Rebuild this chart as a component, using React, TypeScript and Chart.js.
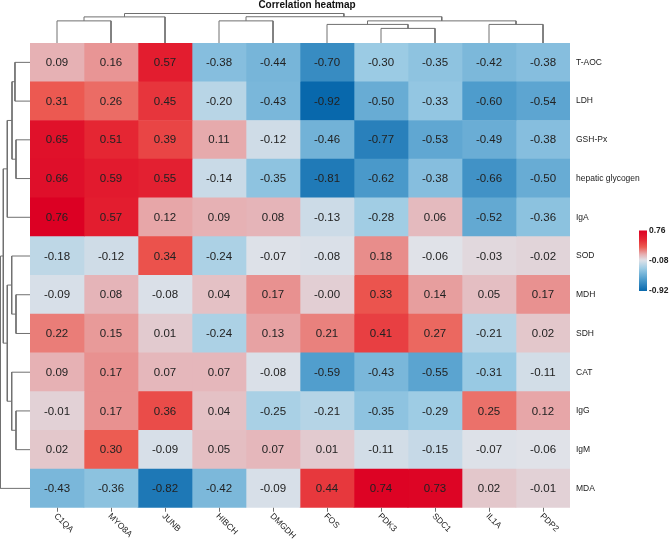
import React, { useEffect, useRef } from "react";
import { Chart, registerables } from "chart.js";
Chart.register(...registerables);

const colLabels = ["C1QA", "MYO8A", "JUNB", "HIBCH", "DMGDH", "FOS", "PDK3", "SDC1", "IL1A", "PDP2"];
const rowLabels = ["T-AOC", "LDH", "GSH-Px", "hepatic glycogen", "IgA", "SOD", "MDH", "SDH", "CAT", "IgG", "IgM", "MDA"];

const valTAOC = [0.09, 0.16, 0.57, -0.38, -0.44, -0.70, -0.30, -0.35, -0.42, -0.38];
const valLDH = [0.31, 0.26, 0.45, -0.20, -0.43, -0.92, -0.50, -0.33, -0.60, -0.54];
const valGSHPx = [0.65, 0.51, 0.39, 0.11, -0.12, -0.46, -0.77, -0.53, -0.49, -0.38];
const valGlycogen = [0.66, 0.59, 0.55, -0.14, -0.35, -0.81, -0.62, -0.38, -0.66, -0.50];
const valIgA = [0.76, 0.57, 0.12, 0.09, 0.08, -0.13, -0.28, 0.06, -0.52, -0.36];
const valSOD = [-0.18, -0.12, 0.34, -0.24, -0.07, -0.08, 0.18, -0.06, -0.03, -0.02];
const valMDH = [-0.09, 0.08, -0.08, 0.04, 0.17, -0.004, 0.33, 0.14, 0.05, 0.17];
const valSDH = [0.22, 0.15, 0.01, -0.24, 0.13, 0.21, 0.41, 0.27, -0.21, 0.02];
const valCAT = [0.09, 0.17, 0.07, 0.07, -0.08, -0.59, -0.43, -0.55, -0.31, -0.11];
const valIgG = [-0.01, 0.17, 0.36, 0.04, -0.25, -0.21, -0.35, -0.29, 0.25, 0.12];
const valIgM = [0.02, 0.30, -0.09, 0.05, 0.07, 0.01, -0.11, -0.15, -0.07, -0.06];
const valMDA = [-0.43, -0.36, -0.82, -0.42, -0.09, 0.44, 0.74, 0.73, 0.02, -0.01];
const values = [valTAOC, valLDH, valGSHPx, valGlycogen, valIgA, valSOD, valMDH, valSDH, valCAT, valIgG, valIgM, valMDA];

// hclust-style merges: negative = leaf (1-based, in display order), positive = earlier merge
const topMergePairs = [[-1, -2], [1, -3], [-4, -5], [-7, -8], [-6, 4], [-9, -10], [5, 6], [3, 7], [2, 8]];
const topMergeHeights = [0.75, 0.885, 0.75, 0.495, 0.63, 0.63, 0.75, 0.89, 1.0];
const leftMergePairs = [[-1, -2], [-3, -4], [1, 2], [3, -5], [-7, -8], [-6, 5], [-10, -11], [-9, 7], [6, 8], [4, 9], [10, -12]];
const leftMergeHeights = [0.51, 0.475, 0.61, 0.77, 0.475, 0.62, 0.475, 0.62, 0.77, 0.905, 1.0];

const legendTicks = [0.76, -0.08, -0.92];
const legendMin = -0.92;
const legendMax = 0.76;

const FONT = '"Liberation Sans", Arial, sans-serif';
const LINE = "#707070";

const colorStops: [number, number[]][] = [
  [-0.92, [8, 104, 172]],
  [-0.6, [78, 156, 204]],
  [-0.3, [155, 203, 228]],
  [-0.06, [224, 226, 232]],
  [0.0, [226, 205, 210]],
  [0.1, [230, 174, 177]],
  [0.3, [236, 92, 82]],
  [0.5, [229, 40, 52]],
  [0.76, [220, 0, 35]],
];

function colorFor(v: number): string {
  if (v <= colorStops[0][0]) return `rgb(${colorStops[0][1].join(",")})`;
  for (let i = 1; i < colorStops.length; i++) {
    const [v1, c1] = colorStops[i];
    const [v0, c0] = colorStops[i - 1];
    if (v <= v1) {
      const t = (v - v0) / (v1 - v0);
      const c = c0.map((a, k) => Math.round(a + (c1[k] - a) * t));
      return `rgb(${c.join(",")})`;
    }
  }
  return `rgb(${colorStops[colorStops.length - 1][1].join(",")})`;
}

function dendroSegments(pairs: number[][], heights: number[]) {
  const pos: number[] = [];
  const hs: number[] = [];
  const segs: { p: number; h: number }[][] = [];
  const node = (ref: number) => (ref < 0 ? { p: -ref - 0.5, h: 0 } : { p: pos[ref - 1], h: hs[ref - 1] });
  pairs.forEach(([a, b], i) => {
    const A = node(a);
    const B = node(b);
    const H = heights[i];
    segs.push([
      { p: A.p, h: A.h },
      { p: A.p, h: H },
      { p: B.p, h: H },
      { p: B.p, h: B.h },
    ]);
    pos.push((A.p + B.p) / 2);
    hs.push(H);
  });
  return segs;
}

const fmt = (v: number) => v.toFixed(2);

export default function App() {
  const heatRef = useRef<HTMLCanvasElement>(null);
  const topRef = useRef<HTMLCanvasElement>(null);
  const leftRef = useRef<HTMLCanvasElement>(null);

  useEffect(() => {
    const charts: Chart[] = [];
    const W = 669;
    const H = 540;
    const heatTop = 43;
    const heatBottom = 507.75;
    const heatLeft = 30;
    const heatRight = 570;

    // Heatmap
    const heatPlugin = {
      id: "heatText",
      afterDatasetsDraw(chart: any) {
        const ctx = chart.ctx;
        const xs = chart.scales.x;
        const ys = chart.scales.y;
        ctx.save();
        ctx.fillStyle = "#222";
        ctx.font = `11.5px ${FONT}`;
        ctx.textAlign = "center";
        ctx.textBaseline = "middle";
        values.forEach((row, r) =>
          row.forEach((v, c) => {
            ctx.fillText(fmt(v), xs.getPixelForValue(c + 0.5), ys.getPixelForValue(r) + 0.5);
          })
        );
        // row labels
        ctx.font = `8.5px ${FONT}`;
        ctx.textAlign = "left";
        rowLabels.forEach((lab, r) => ctx.fillText(lab, chart.chartArea.right + 6, ys.getPixelForValue(r)));
        // column ticks and labels
        const yb = chart.chartArea.bottom;
        ctx.strokeStyle = LINE;
        ctx.lineWidth = 1;
        colLabels.forEach((lab, c) => {
          const x = Math.round(xs.getPixelForValue(c + 0.5)) + 0.5;
          ctx.beginPath();
          ctx.moveTo(x, yb);
          ctx.lineTo(x, yb + 4);
          ctx.stroke();
          ctx.save();
          ctx.translate(x - 2, yb + 7);
          ctx.rotate(Math.PI / 4);
          ctx.fillStyle = "#222";
          ctx.textAlign = "left";
          ctx.textBaseline = "middle";
          ctx.fillText(lab, 0, 0);
          ctx.restore();
        });
        // color legend
        const lx = 639, lw = 8, ly0 = 230.5, ly1 = 291;
        const grad = ctx.createLinearGradient(0, ly1, 0, ly0);
        for (let i = 0; i <= 40; i++) {
          const t = i / 40;
          grad.addColorStop(t, colorFor(legendMin + (legendMax - legendMin) * t));
        }
        ctx.fillStyle = grad;
        ctx.fillRect(lx, ly0, lw, ly1 - ly0);
        ctx.fillStyle = "#222";
        ctx.font = `bold 8.5px ${FONT}`;
        ctx.textAlign = "left";
        ctx.textBaseline = "middle";
        legendTicks.forEach((t) => {
          const y = ly1 - ((t - legendMin) / (legendMax - legendMin)) * (ly1 - ly0);
          ctx.fillText(fmt(t), lx + lw + 2, y);
        });
        ctx.restore();
      },
    };

    if (heatRef.current) {
      charts.push(
        new Chart(heatRef.current, {
          type: "bar",
          data: {
            labels: rowLabels,
            datasets: colLabels.map((name, c) => ({
              label: name,
              data: rowLabels.map(() => [c, c + 1]) as any,
              backgroundColor: values.map((row) => colorFor(row[c])),
              borderWidth: 0,
              barPercentage: 1,
              categoryPercentage: 1,
              grouped: false,
            })),
          },
          options: {
            indexAxis: "y",
            animation: false,
            responsive: false,
            devicePixelRatio: 1,
            layout: { padding: { left: heatLeft, right: W - heatRight, top: heatTop, bottom: H - heatBottom } },
            plugins: { legend: { display: false }, tooltip: { enabled: false } },
            scales: {
              x: { type: "linear", min: 0, max: 10, display: false },
              y: { type: "category", display: false, offset: true },
            },
          } as any,
          plugins: [heatPlugin],
        })
      );
    }

    // Top dendrogram
    const topSegs = dendroSegments(topMergePairs, topMergeHeights);
    const titlePlugin = {
      id: "title",
      afterDraw(chart: any) {
        const ctx = chart.ctx;
        ctx.save();
        ctx.fillStyle = "#111";
        ctx.font = `bold 10px ${FONT}`;
        ctx.textAlign = "center";
        ctx.textBaseline = "middle";
        ctx.fillText("Correlation heatmap", 307, 5.5);
        ctx.restore();
      },
    };
    if (topRef.current) {
      charts.push(
        new Chart(topRef.current, {
          type: "scatter",
          data: {
            datasets: topSegs.map((s) => ({
              data: s.map((pt) => ({ x: pt.p, y: pt.h })),
              showLine: true,
              pointRadius: 0,
              borderColor: LINE,
              borderWidth: 1,
              clip: false,
            })),
          },
          options: {
            animation: false,
            responsive: false,
            devicePixelRatio: 1,
            layout: { padding: { left: heatLeft, right: W - heatRight, top: 13.5, bottom: H - heatTop } },
            plugins: { legend: { display: false }, tooltip: { enabled: false } },
            scales: {
              x: { type: "linear", min: 0, max: 10, display: false },
              y: { type: "linear", min: 0, max: 1, display: false },
            },
          } as any,
          plugins: [titlePlugin],
        })
      );
    }

    // Left dendrogram
    const leftSegs = dendroSegments(leftMergePairs, leftMergeHeights);
    if (leftRef.current) {
      charts.push(
        new Chart(leftRef.current, {
          type: "scatter",
          data: {
            datasets: leftSegs.map((s) => ({
              data: s.map((pt) => ({ x: pt.h, y: pt.p })),
              showLine: true,
              pointRadius: 0,
              borderColor: LINE,
              borderWidth: 1,
              clip: false,
            })),
          },
          options: {
            animation: false,
            responsive: false,
            devicePixelRatio: 1,
            layout: { padding: { left: 0.5, right: W - heatLeft, top: heatTop, bottom: H - heatBottom } },
            plugins: { legend: { display: false }, tooltip: { enabled: false } },
            scales: {
              x: { type: "linear", min: 0, max: 1, reverse: true, display: false },
              y: { type: "linear", min: 0, max: 12, reverse: true, display: false },
            },
          } as any,
        })
      );
    }

    return () => charts.forEach((c) => c.destroy());
  }, []);

  const cs: React.CSSProperties = { position: "absolute", left: 0, top: 0, width: 669, height: 540 };
  return (
    <div style={{ position: "absolute", left: 0, top: 0, width: 669, height: 540, background: "#fff" }}>
      <canvas ref={heatRef} width={669} height={540} style={cs} />
      <canvas ref={topRef} width={669} height={540} style={cs} />
      <canvas ref={leftRef} width={669} height={540} style={cs} />
    </div>
  );
}
